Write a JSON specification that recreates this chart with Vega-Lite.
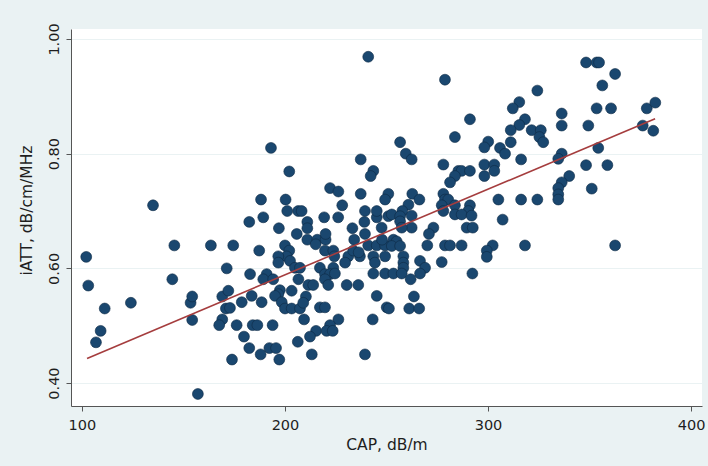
{
  "$schema": "https://vega.github.io/schema/vega-lite/v6.json",
  "width": 631,
  "height": 377,
  "autosize": {"type": "none"},
  "padding": {"left": 71, "top": 29, "right": 6, "bottom": 60},
  "background": "#eaf2f3",
  "config": {
    "view": {"fill": "white", "stroke": null},
    "font": "DejaVu Sans",
    "axis": {
      "domainColor": "#555555",
      "tickColor": "#555555",
      "tickSize": 5,
      "labelFont": "DejaVu Sans",
      "titleFont": "DejaVu Sans",
      "labelFontSize": 14.5,
      "titleFontSize": 15.5,
      "labelColor": "#1e1e1e",
      "titleColor": "#1e1e1e",
      "titleFontWeight": "normal",
      "gridColor": "#eaf2f3",
      "gridWidth": 1.2
    }
  },
  "datasets": {
    "pts": [
      {"cap":102.1,"iatt":0.620},{"cap":103.1,"iatt":0.570},{"cap":106.9,"iatt":0.471},{"cap":109.2,"iatt":0.491},{"cap":111.2,"iatt":0.530},
      {"cap":124.1,"iatt":0.540},{"cap":135.0,"iatt":0.710},{"cap":144.5,"iatt":0.581},{"cap":145.5,"iatt":0.640},{"cap":163.5,"iatt":0.640},
      {"cap":153.5,"iatt":0.540},{"cap":154.3,"iatt":0.551},{"cap":154.3,"iatt":0.510},{"cap":157.1,"iatt":0.381},{"cap":171.3,"iatt":0.600},
      {"cap":169.1,"iatt":0.551},{"cap":172.1,"iatt":0.561},{"cap":170.9,"iatt":0.530},{"cap":172.9,"iatt":0.531},{"cap":169.1,"iatt":0.511},
      {"cap":167.6,"iatt":0.501},{"cap":173.9,"iatt":0.441},{"cap":174.5,"iatt":0.640},{"cap":182.4,"iatt":0.681},{"cap":189.3,"iatt":0.689},
      {"cap":197.0,"iatt":0.670},{"cap":211.0,"iatt":0.681},{"cap":211.0,"iatt":0.670},{"cap":211.0,"iatt":0.650},{"cap":219.3,"iatt":0.689},
      {"cap":226.2,"iatt":0.689},{"cap":239.1,"iatt":0.681},{"cap":245.2,"iatt":0.689},{"cap":233.2,"iatt":0.670},{"cap":239.4,"iatt":0.660},
      {"cap":247.6,"iatt":0.671},{"cap":205.8,"iatt":0.660},{"cap":215.9,"iatt":0.650},{"cap":215.1,"iatt":0.642},{"cap":220.0,"iatt":0.650},
      {"cap":220.0,"iatt":0.660},{"cap":234.1,"iatt":0.650},{"cap":187.3,"iatt":0.631},{"cap":200.0,"iatt":0.640},{"cap":202.1,"iatt":0.631},
      {"cap":200.8,"iatt":0.621},{"cap":196.7,"iatt":0.621},{"cap":196.7,"iatt":0.610},{"cap":202.5,"iatt":0.613},{"cap":219.7,"iatt":0.631},
      {"cap":223.8,"iatt":0.631},{"cap":224.3,"iatt":0.621},{"cap":231.2,"iatt":0.621},{"cap":229.6,"iatt":0.610},{"cap":233.6,"iatt":0.631},
      {"cap":236.9,"iatt":0.621},{"cap":241.0,"iatt":0.640},{"cap":245.2,"iatt":0.640},{"cap":249.3,"iatt":0.640},{"cap":243.5,"iatt":0.621},
      {"cap":249.3,"iatt":0.621},{"cap":244.3,"iatt":0.610},{"cap":204.9,"iatt":0.601},{"cap":207.4,"iatt":0.601},{"cap":217.2,"iatt":0.601},
      {"cap":223.8,"iatt":0.601},{"cap":182.8,"iatt":0.590},{"cap":191.0,"iatt":0.590},{"cap":189.3,"iatt":0.581},{"cap":194.2,"iatt":0.581},
      {"cap":206.6,"iatt":0.581},{"cap":219.7,"iatt":0.590},{"cap":222.2,"iatt":0.590},{"cap":219.7,"iatt":0.581},{"cap":224.6,"iatt":0.591},
      {"cap":221.3,"iatt":0.571},{"cap":211.5,"iatt":0.571},{"cap":213.9,"iatt":0.571},{"cap":230.4,"iatt":0.571},{"cap":236.1,"iatt":0.571},
      {"cap":243.5,"iatt":0.591},{"cap":249.3,"iatt":0.591},{"cap":197.5,"iatt":0.562},{"cap":196.7,"iatt":0.555},{"cap":203.3,"iatt":0.561},
      {"cap":210.3,"iatt":0.551},{"cap":178.7,"iatt":0.541},{"cap":183.6,"iatt":0.552},{"cap":188.5,"iatt":0.541},{"cap":195.1,"iatt":0.552},
      {"cap":198.4,"iatt":0.541},{"cap":200.0,"iatt":0.530},{"cap":203.3,"iatt":0.530},{"cap":207.4,"iatt":0.530},{"cap":209.0,"iatt":0.540},
      {"cap":217.2,"iatt":0.532},{"cap":219.7,"iatt":0.532},{"cap":245.2,"iatt":0.552},{"cap":250.1,"iatt":0.532},{"cap":176.2,"iatt":0.501},
      {"cap":184.1,"iatt":0.501},{"cap":186.4,"iatt":0.501},{"cap":193.9,"iatt":0.501},{"cap":209.4,"iatt":0.511},{"cap":226.3,"iatt":0.511},
      {"cap":222.2,"iatt":0.501},{"cap":215.3,"iatt":0.491},{"cap":220.5,"iatt":0.491},{"cap":223.5,"iatt":0.491},{"cap":243.2,"iatt":0.511},
      {"cap":179.8,"iatt":0.481},{"cap":212.3,"iatt":0.481},{"cap":206.3,"iatt":0.472},{"cap":182.4,"iatt":0.461},{"cap":192.3,"iatt":0.461},
      {"cap":195.6,"iatt":0.461},{"cap":188.0,"iatt":0.450},{"cap":197.2,"iatt":0.441},{"cap":213.2,"iatt":0.450},{"cap":239.4,"iatt":0.450},
      {"cap":241.0,"iatt":0.969},{"cap":193.1,"iatt":0.810},{"cap":202.1,"iatt":0.769},{"cap":237.3,"iatt":0.790},{"cap":243.5,"iatt":0.770},
      {"cap":242.2,"iatt":0.761},{"cap":222.2,"iatt":0.740},{"cap":226.3,"iatt":0.734},{"cap":237.3,"iatt":0.730},{"cap":250.9,"iatt":0.730},
      {"cap":188.2,"iatt":0.720},{"cap":200.3,"iatt":0.720},{"cap":228.2,"iatt":0.710},{"cap":249.3,"iatt":0.720},{"cap":201.1,"iatt":0.700},
      {"cap":206.5,"iatt":0.700},{"cap":208.2,"iatt":0.700},{"cap":239.4,"iatt":0.700},{"cap":245.2,"iatt":0.700},{"cap":250.9,"iatt":0.691},
      {"cap":278.8,"iatt":0.929},{"cap":324.3,"iatt":0.910},{"cap":315.4,"iatt":0.890},{"cap":312.2,"iatt":0.879},{"cap":291.1,"iatt":0.860},
      {"cap":318.2,"iatt":0.860},{"cap":315.4,"iatt":0.850},{"cap":311.2,"iatt":0.841},{"cap":321.5,"iatt":0.841},{"cap":326.0,"iatt":0.841},
      {"cap":325.3,"iatt":0.829},{"cap":327.2,"iatt":0.820},{"cap":283.7,"iatt":0.829},{"cap":256.7,"iatt":0.820},{"cap":300.1,"iatt":0.821},
      {"cap":298.2,"iatt":0.811},{"cap":311.2,"iatt":0.820},{"cap":305.9,"iatt":0.810},{"cap":308.4,"iatt":0.800},{"cap":259.5,"iatt":0.800},
      {"cap":262.4,"iatt":0.790},{"cap":316.3,"iatt":0.790},{"cap":278.0,"iatt":0.781},{"cap":298.2,"iatt":0.781},{"cap":303.1,"iatt":0.781},
      {"cap":285.4,"iatt":0.770},{"cap":287.0,"iatt":0.770},{"cap":291.1,"iatt":0.770},{"cap":303.1,"iatt":0.770},{"cap":298.2,"iatt":0.761},
      {"cap":283.7,"iatt":0.761},{"cap":281.3,"iatt":0.750},{"cap":262.7,"iatt":0.730},{"cap":266.2,"iatt":0.720},{"cap":260.8,"iatt":0.711},
      {"cap":278.0,"iatt":0.730},{"cap":278.8,"iatt":0.720},{"cap":280.4,"iatt":0.720},{"cap":277.2,"iatt":0.710},{"cap":278.0,"iatt":0.700},
      {"cap":283.7,"iatt":0.710},{"cap":291.1,"iatt":0.710},{"cap":290.3,"iatt":0.700},{"cap":283.7,"iatt":0.694},{"cap":287.0,"iatt":0.694},
      {"cap":291.9,"iatt":0.692},{"cap":305.1,"iatt":0.720},{"cap":316.3,"iatt":0.720},{"cap":324.3,"iatt":0.720},{"cap":257.8,"iatt":0.700},
      {"cap":252.6,"iatt":0.694},{"cap":256.7,"iatt":0.691},{"cap":262.4,"iatt":0.692},{"cap":307.2,"iatt":0.685},{"cap":348.3,"iatt":0.959},
      {"cap":353.5,"iatt":0.959},{"cap":354.7,"iatt":0.959},{"cap":362.6,"iatt":0.939},{"cap":356.3,"iatt":0.919},{"cap":336.3,"iatt":0.870},
      {"cap":336.3,"iatt":0.849},{"cap":349.4,"iatt":0.849},{"cap":353.5,"iatt":0.879},{"cap":360.6,"iatt":0.879},{"cap":378.2,"iatt":0.879},
      {"cap":382.4,"iatt":0.889},{"cap":376.2,"iatt":0.849},{"cap":381.4,"iatt":0.840},{"cap":354.3,"iatt":0.810},{"cap":336.3,"iatt":0.800},
      {"cap":334.6,"iatt":0.791},{"cap":348.3,"iatt":0.780},{"cap":358.8,"iatt":0.780},{"cap":340.0,"iatt":0.761},{"cap":336.3,"iatt":0.750},
      {"cap":334.6,"iatt":0.740},{"cap":334.6,"iatt":0.729},{"cap":334.6,"iatt":0.720},{"cap":351.1,"iatt":0.739},{"cap":256.7,"iatt":0.682},
      {"cap":273.1,"iatt":0.671},{"cap":270.9,"iatt":0.660},{"cap":262.4,"iatt":0.671},{"cap":257.5,"iatt":0.671},{"cap":289.5,"iatt":0.671},
      {"cap":292.5,"iatt":0.671},{"cap":253.4,"iatt":0.650},{"cap":255.0,"iatt":0.647},{"cap":252.6,"iatt":0.639},{"cap":256.7,"iatt":0.639},
      {"cap":270.1,"iatt":0.640},{"cap":278.8,"iatt":0.640},{"cap":281.3,"iatt":0.640},{"cap":287.0,"iatt":0.640},{"cap":302.3,"iatt":0.640},
      {"cap":299.4,"iatt":0.631},{"cap":299.4,"iatt":0.620},{"cap":318.2,"iatt":0.640},{"cap":258.3,"iatt":0.621},{"cap":258.3,"iatt":0.610},
      {"cap":258.3,"iatt":0.601},{"cap":266.5,"iatt":0.613},{"cap":269.0,"iatt":0.601},{"cap":277.2,"iatt":0.611},{"cap":253.4,"iatt":0.591},
      {"cap":257.5,"iatt":0.591},{"cap":261.9,"iatt":0.581},{"cap":266.5,"iatt":0.591},{"cap":292.3,"iatt":0.591},{"cap":263.5,"iatt":0.551},
      {"cap":261.2,"iatt":0.530},{"cap":266.1,"iatt":0.530},{"cap":251.2,"iatt":0.530},{"cap":362.6,"iatt":0.640},{"cap":247.8,"iatt":0.650},
      {"cap":236.3,"iatt":0.628}
    ],
    "fit": [
      {"cap":102.5,"iatt":0.443},
      {"cap":382.3,"iatt":0.861}
    ]
  },
  "layer": [
    {
      "data": {"name": "pts"},
      "mark": {"type": "circle", "size": 118, "color": "#1a476f", "opacity": 1, "stroke": "#0e2a44", "strokeWidth": 0.6},
      "encoding": {
        "x": {
          "field": "cap", "type": "quantitative",
          "scale": {"domain": [94.6, 405.4], "nice": false, "zero": false},
          "axis": {"title": "CAP, dB/m", "values": [100, 200, 300, 400], "grid": false, "labelPadding": 7, "titlePadding": 6}
        },
        "y": {
          "field": "iatt", "type": "quantitative",
          "scale": {"domain": [0.36, 1.0174], "nice": false, "zero": false},
          "axis": {"title": "iATT, dB/cm/MHz", "values": [0.4, 0.6, 0.8, 1.0], "format": ".2f", "grid": true, "labelAngle": 270, "labelAlign": "center", "labelBaseline": "bottom", "labelPadding": 5, "titlePadding": 12, "titleY": 181}
        }
      }
    },
    {
      "data": {"name": "fit"},
      "mark": {"type": "line", "color": "#a53d3e", "strokeWidth": 1.6},
      "encoding": {
        "x": {"field": "cap", "type": "quantitative"},
        "y": {"field": "iatt", "type": "quantitative"}
      }
    }
  ]
}
